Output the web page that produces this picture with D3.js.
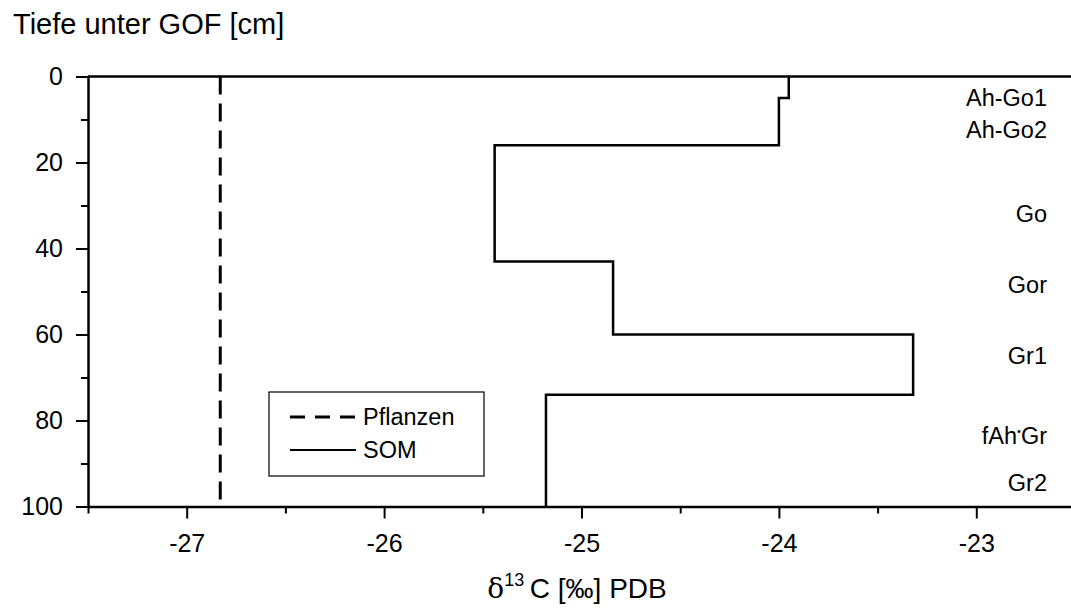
<!DOCTYPE html>
<html>
<head>
<meta charset="utf-8">
<script src="https://cdn.jsdelivr.net/npm/d3@7"></script>
<style>
  html, body { margin: 0; padding: 0; background: #fff; overflow: hidden; }
  svg { display: block; font-family: "Liberation Sans", Arial, sans-serif; }
  .axis path, .axis line { stroke: #000; }
  .axis text { fill: #000; font-size: 25px; font-family: "Liberation Sans", Arial, sans-serif; }
</style>
</head>
<body>
<div id="chart"></div>
<script>
// ---- data ----
const depthTop    = [0, 5, 16, 43, 60, 74];
const depthBottom = [5, 16, 43, 60, 74, 100];
const somValues   = [-23.95, -24.0, -25.44, -24.84, -23.32, -25.18];
const plantValue  = -26.83;

const horizons      = ["Ah-Go1", "Ah-Go2", "Go", "Gor", "Gr1", "fAh*Gr", "Gr2"];
const horizonDepths = [5, 12.5, 32, 48.5, 65, 83.5, 94.5];

const xMajorTicks = [-27, -26, -25, -24, -23];
const xMinorTicks = [-27.5, -26.5, -25.5, -24.5, -23.5, -22.5];
const yMajorTicks = [0, 20, 40, 60, 80, 100];
const yMinorTicks = [10, 30, 50, 70, 90];

// ---- layout ----
const W = 1071, H = 608;
const plotL = 88, plotR = 1075, plotT = 76.5, plotB = 506.5;

const svg = d3.select("#chart").append("svg")
  .attr("width", W).attr("height", H);

const x = d3.scaleLinear().domain([-27.5, -22.5]).range([plotL, plotR]);
const y = d3.scaleLinear().domain([0, 100]).range([plotT, plotB]);

// minor ticks first (no labels)
svg.append("g").attr("class", "axis")
  .attr("transform", `translate(0,${plotB})`)
  .call(d3.axisBottom(x).tickValues(xMinorTicks).tickSize(7).tickFormat(""))
  .call(g => g.select(".domain").remove())
  .selectAll("line").attr("stroke-width", 2);

svg.append("g").attr("class", "axis")
  .attr("transform", `translate(${plotL},0)`)
  .call(d3.axisLeft(y).tickValues(yMinorTicks).tickSize(7).tickFormat(""))
  .call(g => g.select(".domain").remove())
  .selectAll("line").attr("stroke-width", 2);

// major ticks with labels
const xAxis = svg.append("g").attr("class", "axis")
  .attr("transform", `translate(0,${plotB})`)
  .call(d3.axisBottom(x).tickValues(xMajorTicks).tickSize(12).tickPadding(16).tickSizeOuter(0)
    .tickFormat(d => String(d)));
xAxis.selectAll("line").attr("stroke-width", 2);
xAxis.select(".domain").attr("stroke-width", 2.5);

const yAxis = svg.append("g").attr("class", "axis")
  .attr("transform", `translate(${plotL},0)`)
  .call(d3.axisLeft(y).tickValues(yMajorTicks).tickSize(12).tickPadding(13).tickSizeOuter(0));
yAxis.selectAll("line").attr("stroke-width", 2);
yAxis.select(".domain").attr("stroke-width", 2.5);

// top frame line
svg.append("line")
  .attr("x1", x(-27.5)).attr("x2", x(-22.5))
  .attr("y1", y(0)).attr("y2", y(0))
  .attr("stroke", "#000").attr("stroke-width", 2.5);

// plants: dashed vertical
svg.append("line")
  .attr("x1", x(plantValue)).attr("x2", x(plantValue))
  .attr("y1", y(0)).attr("y2", y(100))
  .attr("stroke", "#000").attr("stroke-width", 3)
  .attr("stroke-dasharray", "18,9");

// SOM step profile
const pts = [];
somValues.forEach((v, i) => {
  pts.push([v, depthTop[i]]);
  pts.push([v, depthBottom[i]]);
});
svg.append("path")
  .datum(pts)
  .attr("fill", "none")
  .attr("stroke", "#000")
  .attr("stroke-width", 2.5)
  .attr("d", d3.line().x(d => x(d[0])).y(d => y(d[1])));

// horizon labels
svg.append("g").selectAll("text")
  .data(horizons)
  .join("text")
  .attr("x", 1047)
  .attr("y", (d, i) => y(horizonDepths[i]))
  .attr("dy", "0.35em")
  .attr("text-anchor", "end")
  .attr("font-size", 23.5)
  .each(function (d) {
    const t = d3.select(this);
    if (d.includes("*")) {
      const [a, b] = d.split("*");
      t.append("tspan").text(a);
      t.append("tspan").text("•").attr("font-size", 11).attr("dy", "-9");
      t.append("tspan").text(b).attr("dy", "9");
    } else {
      t.text(d);
    }
  });

// title / axis labels
svg.append("text")
  .attr("x", 13).attr("y", 34)
  .attr("font-size", 29)
  .text("Tiefe unter GOF [cm]");

const xl = svg.append("text")
  .attr("x", 577).attr("y", 598)
  .attr("text-anchor", "middle")
  .attr("font-size", 28);
xl.append("tspan").attr("font-family", "'DejaVu Serif', serif").text("δ");
xl.append("tspan").attr("font-size", 18).attr("dy", -12).text("13");
xl.append("tspan").attr("dy", 12).text("\u2009C [‰] PDB");

// legend
const lg = svg.append("g");
lg.append("rect")
  .attr("x", 269).attr("y", 392).attr("width", 215).attr("height", 84)
  .attr("fill", "#fff").attr("stroke", "#000").attr("stroke-width", 1.2);
const legendItems = ["Pflanzen", "SOM"];
const legendDash = ["15,10", null];
legendItems.forEach((name, i) => {
  const yy = 417 + i * 33;
  lg.append("line")
    .attr("x1", 290).attr("x2", 356).attr("y1", yy).attr("y2", yy)
    .attr("stroke", "#000").attr("stroke-width", i === 0 ? 3 : 2)
    .attr("stroke-dasharray", legendDash[i]);
  lg.append("text")
    .attr("x", 363).attr("y", yy).attr("dy", "0.35em")
    .attr("font-size", 23.5)
    .text(name);
});
</script>
</body>
</html>
